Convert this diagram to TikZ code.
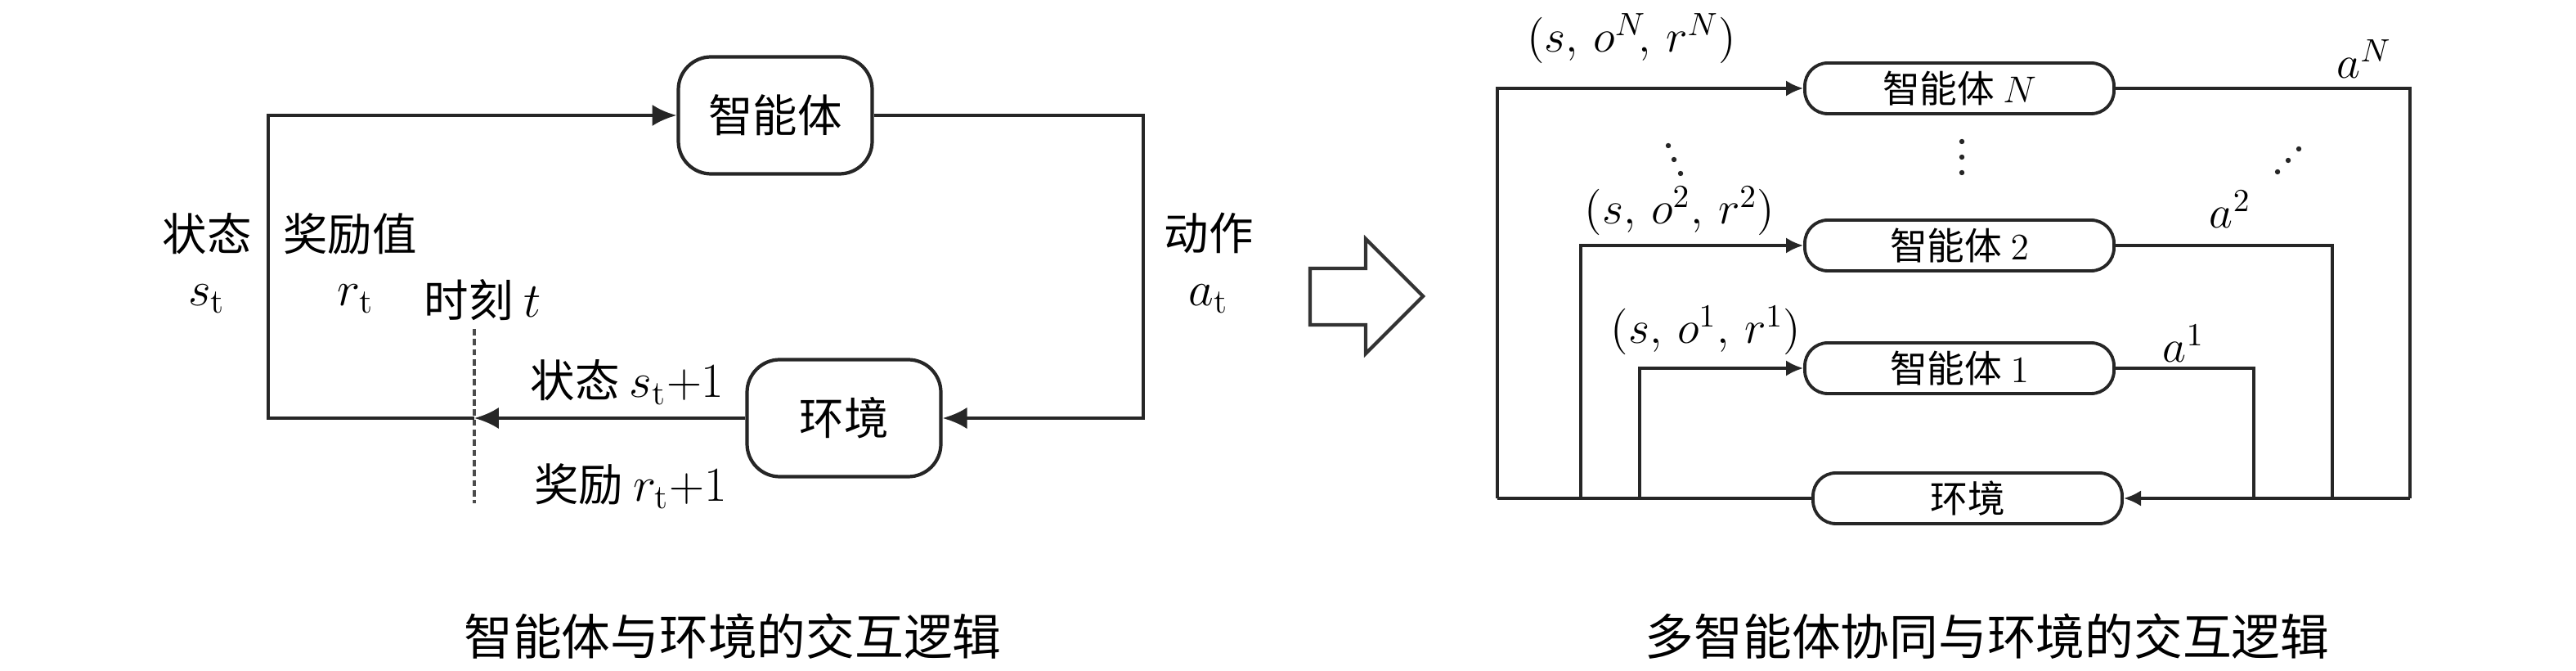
\RequirePackage{fix-cm}
\documentclass[tikz,border=0pt]{standalone}
\usepackage{fontspec}
\newfontfamily\zhfont{Noto Sans CJK SC}
\usetikzlibrary{arrows.meta}
\tikzset{
  agentbox/.style={draw=black!85, line width=1.2pt, rounded corners=0.4cm, minimum width=2.37cm, minimum height=1.43cm, font=\zhfont\fontsize{15.5}{18}\selectfont},
  slotbox/.style={draw=black!85, line width=1.1pt, rounded corners=0.28cm, minimum width=3.78cm, minimum height=0.62cm, inner sep=0pt, font=\zhfont\fontsize{13}{15}\selectfont},
  flow/.style={draw=black!85, line width=1.3pt},
  mflow/.style={draw=black!85, line width=1pt},
  lbl/.style={font=\zhfont\fontsize{15.5}{18}\selectfont, inner sep=1pt},
  mlbl/.style={font=\fontsize{17}{20}\selectfont, inner sep=1pt},
  rlbl/.style={font=\fontsize{16}{19}\selectfont, inner sep=1pt},
  captext/.style={font=\zhfont\fontsize{17}{20}\selectfont},
  bigtip/.style={-{Latex[length=8.5pt,width=7.5pt]}},
  smalltip/.style={-{Latex[length=6pt,width=5.5pt]}},
}
\begin{document}
\begin{tikzpicture}
        \useasboundingbox (0,0) rectangle (31.5,8.2);
        % single agent
        \node[agentbox] (agent) at (9.48,6.79) {智能体};
        \node[agentbox] (env) at (10.32,3.09) {环境};
        \coordinate (tick) at (5.80,3.09);
        \coordinate (lb) at (3.28,3.09);
        \coordinate (rb) at (13.98,3.09);
        \coordinate (dtop) at (5.80,4.18);
        \coordinate (dbot) at (5.80,2.05);
        \draw[flow,bigtip] (env.west) -- (tick);
        \draw[flow,bigtip] (tick) -- (lb) |- (agent.west);
        \draw[flow,bigtip] (agent.east) -| (rb) -- (env.east);
        \draw[line width=1pt,black!70,dash pattern=on 2.2pt off 1.3pt] (dtop) -- (dbot);
        \node[lbl] (st1) at (2.53,5.34) {状态};
        \node[mlbl] (st2) at (2.53,4.55) {$s_{\mathrm{t}}$};
        \node[lbl] (rw1) at (4.28,5.34) {奖励值};
        \node[mlbl] (rw2) at (4.35,4.55) {$r_{\mathrm{t}}$};
        \node[lbl] (tm) at (5.90,4.53) {时刻~{\fontsize{17}{20}\selectfont$t$}};
        \node[lbl] (act1) at (14.78,5.35) {动作};
        \node[mlbl] (act2) at (14.78,4.55) {$a_{\mathrm{t}}$};
        \node[lbl] (nst) at (7.67,3.53) {状态~{\fontsize{17}{20}\selectfont$s_{\mathrm{t}}{+}1$}};
        \node[lbl] (nrw) at (7.71,2.26) {奖励~{\fontsize{17}{20}\selectfont$r_{\mathrm{t}}{+}1$}};
        \node[captext] (capL) at (8.96,0.42) {智能体与环境的交互逻辑};
        % hollow arrow
        \draw[line width=1.2pt,black!80,line join=miter] (16.02,4.92) -- (16.70,4.92) -- (16.70,5.28) -- (17.40,4.58) -- (16.70,3.88) -- (16.70,4.23) -- (16.02,4.23) -- cycle;
        % multi agent
        \node[slotbox] (agN) at (23.96,7.12) {智能体~$N$};
        \node[slotbox] (ag2) at (23.96,5.20) {智能体~$2$};
        \node[slotbox] (ag1) at (23.96,3.70) {智能体~$1$};
        \node[slotbox] (envR) at (24.06,2.11) {环境};
        \coordinate (L0) at (18.31,2.11);
        \coordinate (L2) at (19.33,2.11);
        \coordinate (L1) at (20.05,2.11);
        \coordinate (R1) at (27.56,2.11);
        \coordinate (R2) at (28.52,2.11);
        \coordinate (R0) at (29.47,2.11);
        \draw[mflow] (envR.west) -- (L0);
        \draw[mflow,smalltip] (L0) |- (agN.west);
        \draw[mflow,smalltip] (L2) |- (ag2.west);
        \draw[mflow,smalltip] (L1) |- (ag1.west);
        \draw[mflow] (agN.east) -| (R0);
        \draw[mflow] (ag2.east) -| (R2);
        \draw[mflow] (ag1.east) -| (R1);
        \draw[mflow,smalltip] (R0) -- (envR.east);
        \node[rlbl] (obsN) at (19.95,7.73) {$(s,\,o^{N}\!,\,r^{N})$};
        \node[rlbl] (actN) at (28.91,7.48) {$a^{N}$};
        \node[rlbl] (obs2) at (20.54,5.62) {$(s,\,o^{2},\,r^{2})$};
        \node[rlbl] (act2R) at (27.27,5.64) {$a^{2}$};
        \node[rlbl] (obs1) at (20.86,4.16) {$(s,\,o^{1},\,r^{1})$};
        \node[rlbl] (act1R) at (26.70,4.00) {$a^{1}$};
        \foreach \p in {(20.40,6.42),(20.47,6.25),(20.55,6.08),(23.99,6.47),(23.99,6.28),(23.99,6.09),(27.85,6.10),(27.98,6.24),(28.11,6.38)}
          \fill[black!85] \p circle (0.032);
        \node[captext] (capR) at (24.30,0.42) {多智能体协同与环境的交互逻辑};
\end{tikzpicture}
\end{document}
